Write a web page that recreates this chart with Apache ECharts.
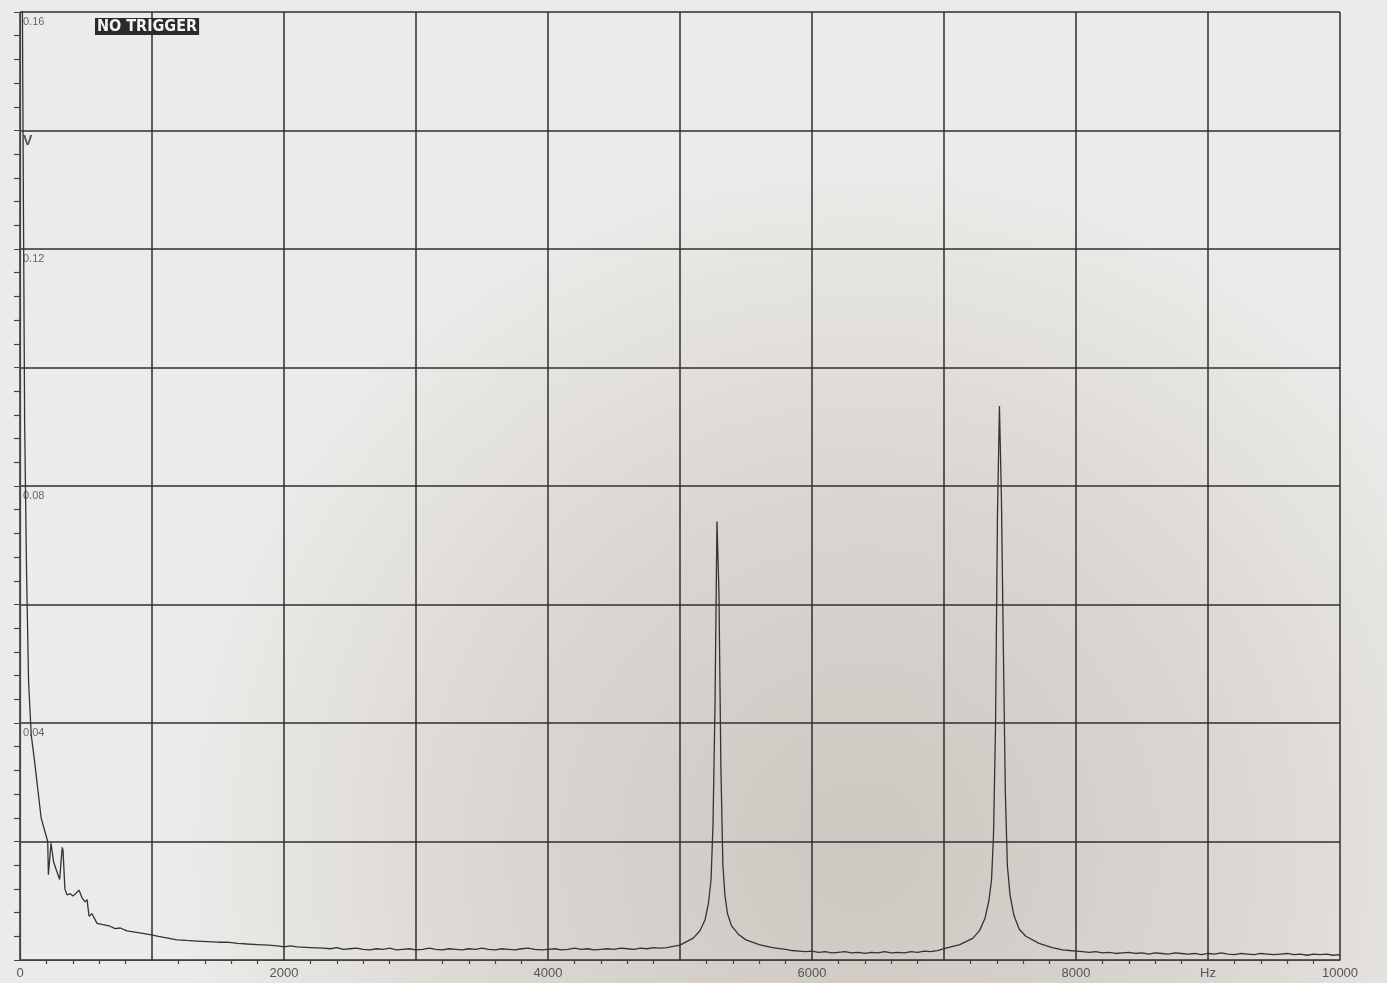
<!DOCTYPE html>
<html style="height: 100%">
<head>
  <meta charset="utf-8">
</head>
<body style="height: 100%; margin: 0">
<div id="spectrum" style="width: 1387px; height: 983px"></div>
<script src="https://cdn.jsdelivr.net/npm/echarts@6/dist/echarts.min.js"></script>
<script type="text/javascript">
// spectrum (Hz / V)
// near-DC region: steep fall, the two bumps, then the slow decay
var lowHz = [0, 15, 25, 35, 50, 65, 85, 110, 160, 210, 215, 235, 255, 300, 320, 326, 340, 356, 380, 400, 417, 447, 470, 492, 508, 523, 545, 560, 583, 620, 682, 720, 760, 810, 870, 930, 985, 1050, 1120, 1189, 1260, 1340, 1420, 1500, 1568, 1650, 1720, 1800, 1880, 1950, 2000, 2050, 2100, 2200];
var lowV = [0.2, 0.175, 0.131, 0.091, 0.065, 0.047, 0.038, 0.0336, 0.024, 0.020, 0.0144, 0.0197, 0.0165, 0.0136, 0.019, 0.0185, 0.012, 0.011, 0.0112, 0.0108, 0.0111, 0.0118, 0.0105, 0.0098, 0.0102, 0.0074, 0.0078, 0.0072, 0.0062, 0.0060, 0.0057, 0.0053, 0.0054, 0.0049, 0.0047, 0.0045, 0.0043, 0.0040, 0.0037, 0.0034, 0.0033, 0.0032, 0.0031, 0.0030, 0.0030, 0.0028, 0.0027, 0.0026, 0.0025, 0.0024, 0.0022, 0.0024, 0.0022, 0.0021];

// noise floor pieces, sampled every 50 Hz
var floorAStart = 2300;
var floorAV = [0.0020, 0.0019, 0.0021, 0.0018, 0.0019, 0.0020, 0.0018, 0.0017, 0.0019, 0.0018, 0.0020, 0.0017, 0.0018, 0.0019, 0.0017, 0.0018, 0.0020, 0.0018, 0.0017, 0.0019, 0.0018, 0.0017, 0.0019, 0.0018, 0.0020, 0.0018, 0.0017, 0.0019, 0.0018, 0.0017, 0.0019, 0.0020, 0.0018, 0.0017, 0.0018, 0.0019, 0.0017, 0.0018, 0.0020, 0.0018, 0.0019, 0.0017, 0.0018, 0.0019, 0.0018, 0.0020, 0.0019, 0.0018, 0.0020, 0.0019, 0.0021, 0.0020];
var floorBStart = 5850;
var floorBV = [0.0016, 0.0015, 0.0014, 0.0015, 0.0013, 0.0014, 0.0012, 0.0013, 0.0014, 0.0012, 0.0013, 0.0011, 0.0013, 0.0012, 0.0014, 0.0012, 0.0013, 0.0012, 0.0014, 0.0013, 0.0015, 0.0014, 0.0016];
var floorCStart = 7950;
var floorCV = [0.0016, 0.0015, 0.0014, 0.0013, 0.0014, 0.0012, 0.0013, 0.0011, 0.0012, 0.0013, 0.0011, 0.0012, 0.0010, 0.0012, 0.0011, 0.0010, 0.0012, 0.0011, 0.0010, 0.0011, 0.0009, 0.0011, 0.0010, 0.0012, 0.0010, 0.0009, 0.0011, 0.0010, 0.0009, 0.0011, 0.0010, 0.0009, 0.0010, 0.0011, 0.0009, 0.0010, 0.0008, 0.0010, 0.0009, 0.0010, 0.0008, 0.0009];

// first tone, ~5.28 kHz
var peak1Hz = [4900, 5000, 5100, 5150, 5190, 5215, 5235, 5250, 5265, 5280, 5295, 5310, 5325, 5340, 5360, 5390, 5440, 5500, 5600, 5700, 5800];
var peak1V = [0.0021, 0.0025, 0.0037, 0.0049, 0.0068, 0.0095, 0.0135, 0.0228, 0.0426, 0.074, 0.062, 0.0322, 0.016, 0.0110, 0.0078, 0.0058, 0.0044, 0.0034, 0.0026, 0.0021, 0.0018];

// second tone, ~7.42 kHz
var peak2Hz = [7000, 7120, 7220, 7270, 7310, 7340, 7360, 7375, 7390, 7405, 7420, 7435, 7450, 7465, 7480, 7500, 7530, 7570, 7620, 7720, 7820, 7900];
var peak2V = [0.0019, 0.0026, 0.0037, 0.0050, 0.0070, 0.0100, 0.0135, 0.021, 0.039, 0.075, 0.0935, 0.078, 0.052, 0.028, 0.016, 0.0110, 0.0075, 0.0052, 0.0040, 0.0028, 0.0021, 0.0017];

function zipPairs(hz, v) {
  var out = [];
  for (var i = 0; i < hz.length; i++) out.push([hz[i], v[i]]);
  return out;
}
function sampled(start, v) {
  var out = [];
  for (var i = 0; i < v.length; i++) out.push([start + i * 50, v[i]]);
  return out;
}

var trace = [].concat(
  zipPairs(lowHz, lowV),
  sampled(floorAStart, floorAV),
  zipPairs(peak1Hz, peak1V),
  sampled(floorBStart, floorBV),
  zipPairs(peak2Hz, peak2V),
  sampled(floorCStart, floorCV)
);

var ink = '#2f2f2f';

var myChart = echarts.init(document.getElementById('spectrum'));
var option = {
  backgroundColor: '#ecebe9',
  animation: false,
  graphic: [
    {
      // shadow of the photo over the paper
      type: 'rect',
      z: -10,
      silent: true,
      shape: { x: 0, y: 0, width: 1387, height: 983 },
      style: {
        fill: {
          type: 'radial', x: 0.62, y: 0.86, r: 0.7,
          colorStops: [
            { offset: 0, color: '#cdc7c1' },
            { offset: 0.5, color: '#d9d5d0' },
            { offset: 1, color: '#ecebe9' }
          ]
        }
      }
    },
    {
      type: 'text',
      left: 95,
      top: 18,
      z: 10,
      style: {
        text: 'NO TRIGGER',
        fill: '#f4f4f4',
        font: 'bold 16px "DejaVu Sans Condensed", "Liberation Sans Narrow", sans-serif',
        backgroundColor: '#2a2a2a',
        padding: [1, 2, 0, 2]
      }
    }
  ],
  grid: { left: 20, right: 47, top: 12, bottom: 23 },
  xAxis: {
    type: 'value',
    min: 0,
    max: 10000,
    interval: 1000,
    axisLine: { show: true, lineStyle: { color: '#444', width: 1.2 } },
    axisTick: { show: false },
    minorTick: { show: true, splitNumber: 5, length: 4, lineStyle: { color: '#444', width: 1.2 } },
    splitLine: { show: true, lineStyle: { color: ink, width: 1.5 } },
    axisLabel: {
      margin: 7,
      color: '#555',
      fontSize: 13,
      fontFamily: 'Liberation Sans, sans-serif',
      formatter: function (v) {
        if (v === 9000) return 'Hz';
        if (v % 2000 === 0) return String(v);
        return '';
      }
    }
  },
  yAxis: {
    type: 'value',
    min: 0,
    max: 0.16,
    interval: 0.02,
    axisLine: { show: true, lineStyle: { color: '#444', width: 1.2 } },
    axisTick: { show: true, length: 6, lineStyle: { color: '#444' } },
    minorTick: { show: true, splitNumber: 5, length: 6, lineStyle: { color: '#444', width: 1.2 } },
    splitLine: { show: true, lineStyle: { color: ink, width: 1.5 } },
    axisLabel: {
      inside: true,
      margin: 3,
      verticalAlign: 'top',
      padding: [4, 0, 0, 0],
      color: '#666',
      fontSize: 11,
      fontFamily: 'Liberation Sans, sans-serif',
      rich: {
        unit: { fontSize: 14, fontWeight: 'bold', color: '#555' }
      },
      formatter: function (v) {
        var k = Math.round(v * 100);
        if (k === 0) return '';
        if (k === 14) return '{unit|V}';
        if (k % 4 === 0) return (k / 100).toFixed(2);
        return '';
      }
    }
  },
  series: [
    {
      type: 'line',
      data: trace,
      showSymbol: false,
      clip: true,
      lineStyle: { color: '#333', width: 1.3 }
    }
  ]
};
myChart.setOption(option, true);
</script>
</body>
</html>
